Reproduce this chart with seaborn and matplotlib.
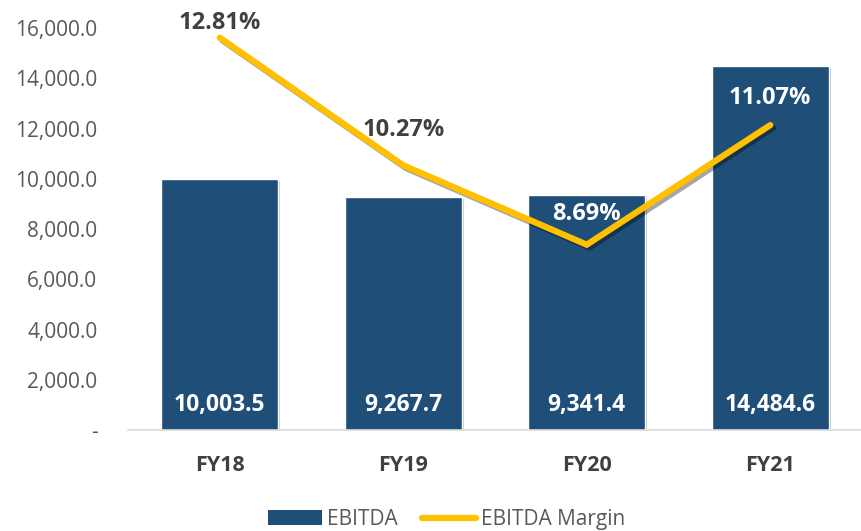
import matplotlib

matplotlib.use("Agg")

import matplotlib.patheffects as pe
import matplotlib.pyplot as plt
import pandas as pd
import seaborn as sns
from matplotlib.lines import Line2D
from matplotlib.patches import Patch
from matplotlib.ticker import FuncFormatter

YEARS = ["FY18", "FY19", "FY20", "FY21"]
EBITDA = [10003.5, 9267.7, 9341.4, 14484.6]
MARGIN = [12.81, 10.27, 8.69, 11.07]

BAR_COLOR = "#1F4E79"
LINE_COLOR = "#FFC000"
TEXT_GRAY = "#595959"
DARK_TEXT = "#404040"

# label placement / colour for the margin labels (pixels above the point)
MARGIN_LABEL_OFFSET = [15, 35, 31, 27]
MARGIN_LABEL_COLOR = [DARK_TEXT, DARK_TEXT, "white", "white"]

sns.set_style("white")
plt.rcParams["font.family"] = ["Open Sans", "DejaVu Sans"]

df = pd.DataFrame({"year": YEARS, "ebitda": EBITDA, "margin": MARGIN})

fig = plt.figure(figsize=(8.62, 5.31), dpi=100)
ax = fig.add_axes([0.1485, 0.19, 0.8515, 0.757])

sns.barplot(data=df, x="year", y="ebitda", color=BAR_COLOR, width=0.636,
            saturation=1, ax=ax)
for bar in ax.patches:
    bar.set_path_effects([pe.SimplePatchShadow(offset=(1.5, -1.5), alpha=0.25), pe.Normal()])

for i, v in enumerate(EBITDA):
    ax.annotate(f"{v:,.1f}", (i, 0), xytext=(0, 25), textcoords="offset pixels",
                ha="center", va="center", color="white", fontsize=16.5, fontweight="bold")

ax.set_ylim(0, 16000)
ax.set_xlim(-0.5, 3.5)
ax.set_yticks(range(0, 16001, 2000))
ax.yaxis.set_major_formatter(FuncFormatter(lambda v, _: "-" if v == 0 else f"{v:,.1f}"))
ax.tick_params(axis="y", length=0, pad=22, labelsize=15, labelcolor=TEXT_GRAY)
ax.tick_params(axis="x", length=0, pad=18, labelsize=15.5, labelcolor=DARK_TEXT)
for lbl in ax.get_xticklabels():
    lbl.set_fontweight("bold")
ax.set_xlabel("")
ax.set_ylabel("")
for side in ["left", "right", "top"]:
    ax.spines[side].set_visible(False)
ax.spines["bottom"].set_color("#D9D9D9")
ax.spines["bottom"].set_linewidth(1.2)

ax2 = ax.twinx()
sns.lineplot(x=list(range(len(YEARS))), y=MARGIN, color=LINE_COLOR, linewidth=4.5,
             ax=ax2, solid_capstyle="round", solid_joinstyle="miter")
ax2.lines[0].set_path_effects([pe.SimpleLineShadow(offset=(2, -2), alpha=0.35), pe.Normal()])
ax2.set_ylim(5, 13)
ax2.set_xlim(-0.5, 3.5)
ax2.set_yticks([])
ax2.set_ylabel("")
for side in ["left", "right", "top", "bottom"]:
    ax2.spines[side].set_visible(False)

for i, (m, off, col) in enumerate(zip(MARGIN, MARGIN_LABEL_OFFSET, MARGIN_LABEL_COLOR)):
    ax2.annotate(f"{m:.2f}%", (i, m), xytext=(0, off), textcoords="offset pixels",
                 ha="center", va="center", color=col, fontsize=17, fontweight="bold")

handles = [
    Patch(facecolor=BAR_COLOR, edgecolor="none", label="EBITDA"),
    Line2D([], [], color=LINE_COLOR, linewidth=4.5, solid_capstyle="round", label="EBITDA Margin"),
]
fig.legend(handles=handles, loc="center", bbox_to_anchor=(0.518, 0.022), ncol=2,
           frameon=False, fontsize=15, labelcolor=TEXT_GRAY, handlelength=2.6,
           handleheight=0.7, handletextpad=0.2, columnspacing=1.2)

fig.savefig("out.png", dpi=100)
